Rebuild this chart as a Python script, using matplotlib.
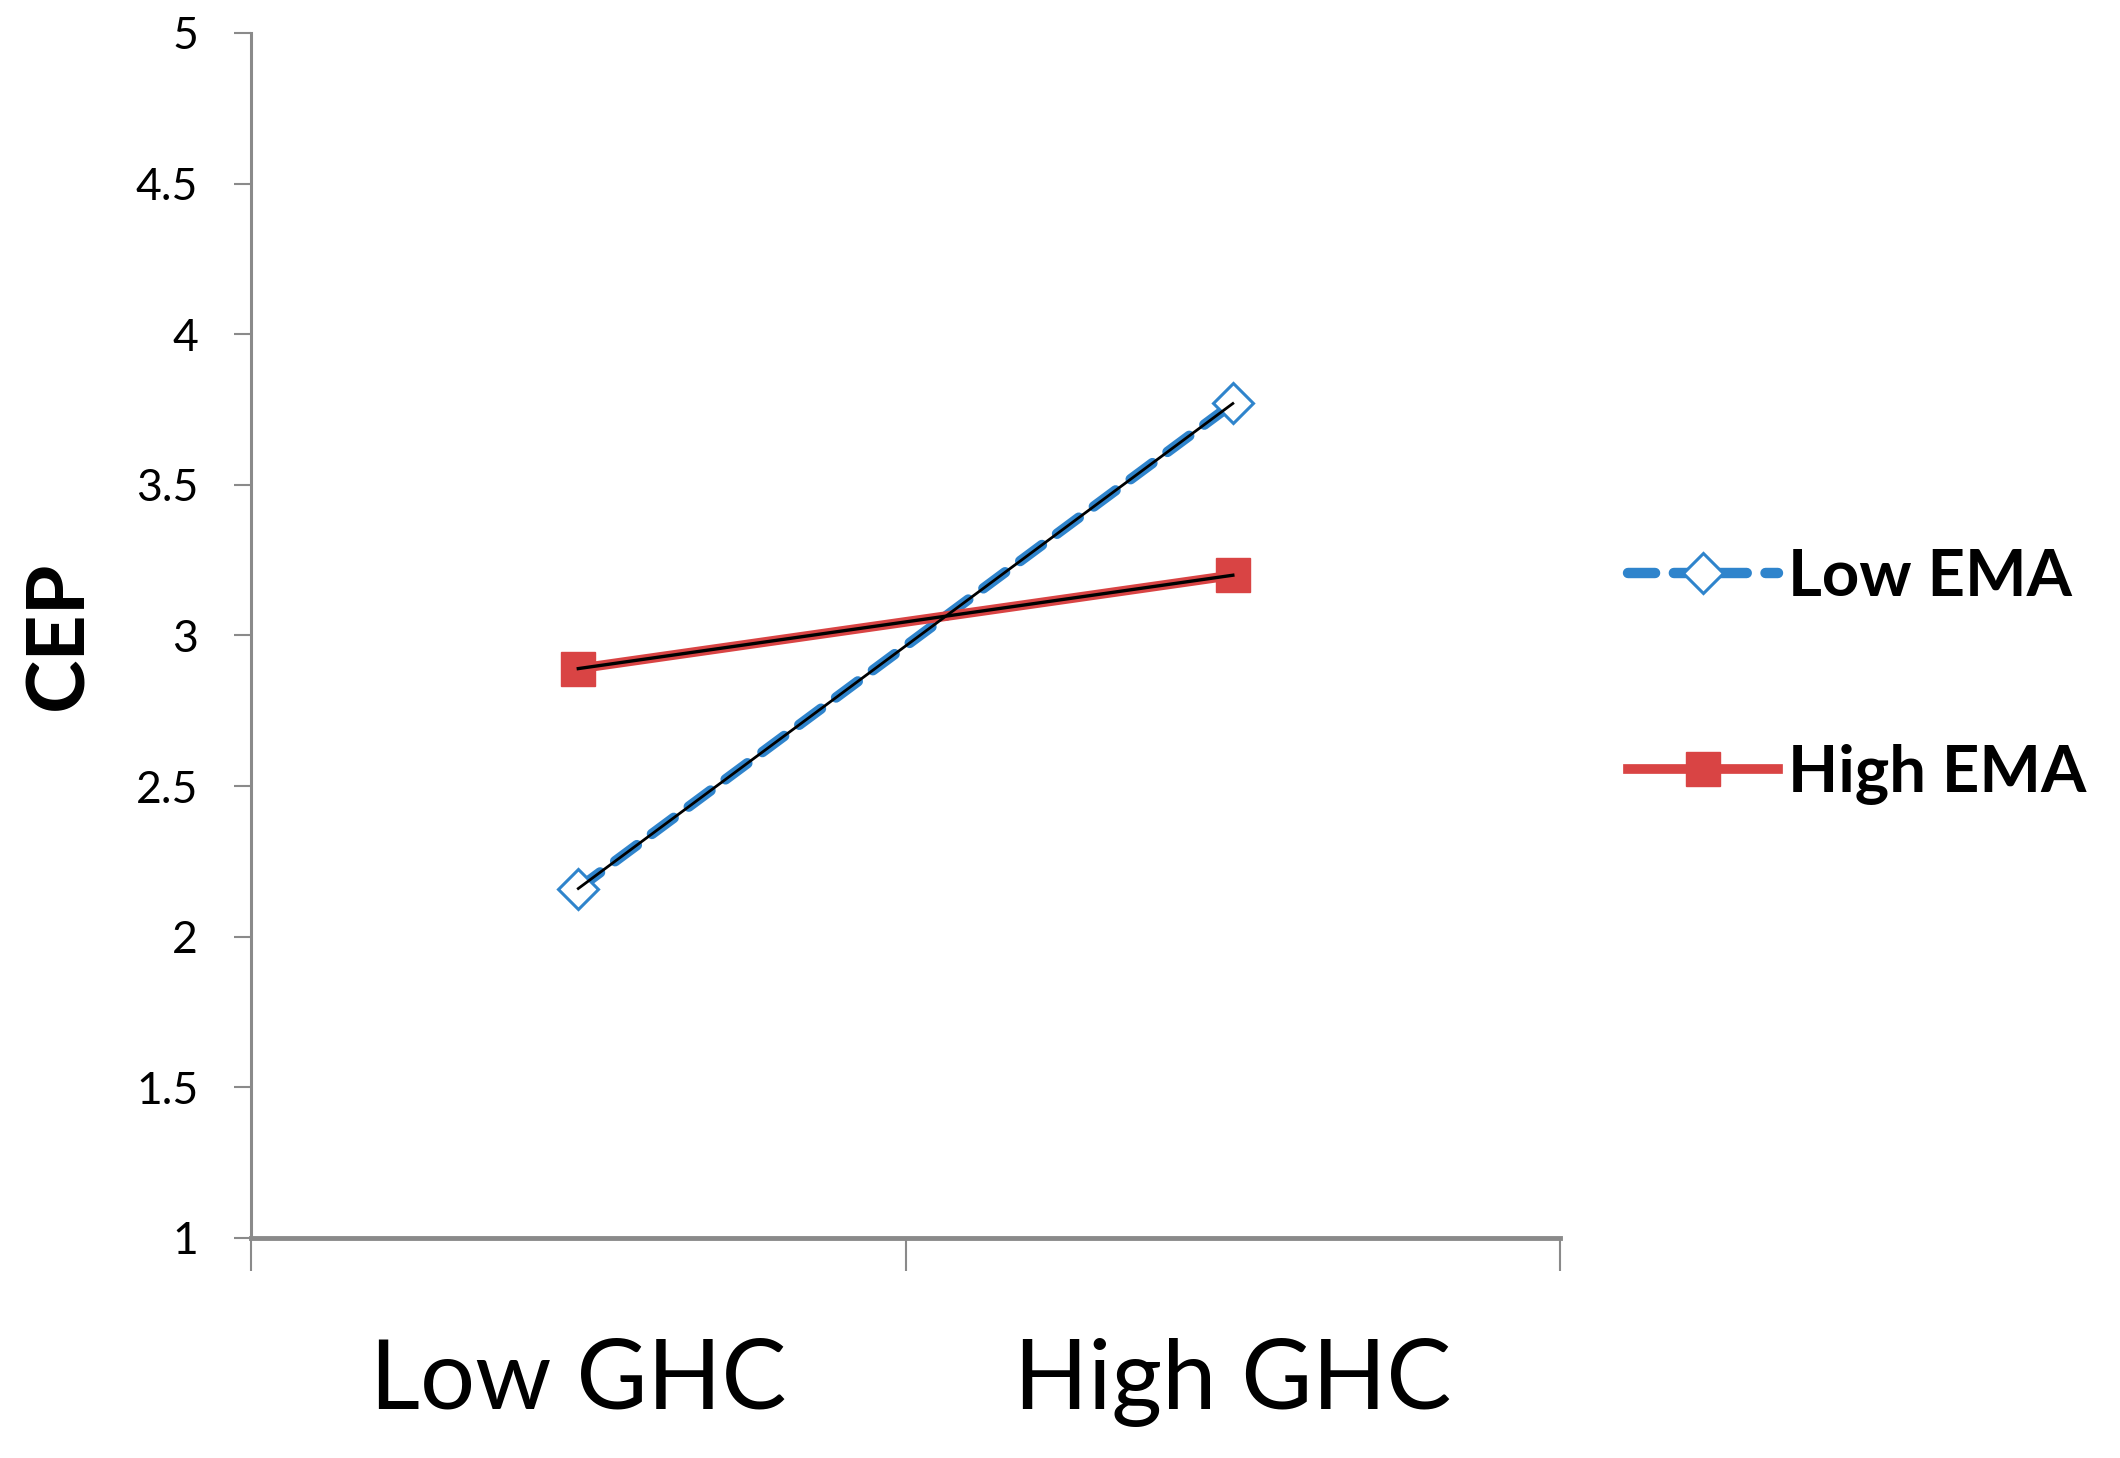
import matplotlib
matplotlib.use("Agg")
import matplotlib.pyplot as plt

# ─── data ────────────────────────────────────────────────────────────────────
categories = ["Low GHC", "High GHC"]
low_ema = [2.16, 3.77]
high_ema = [2.89, 3.20]
y_ticks = [1, 1.5, 2, 2.5, 3, 3.5, 4, 4.5, 5]
y_tick_labels = ["1", "1.5", "2", "2.5", "3", "3.5", "4", "4.5", "5"]

BLUE = "#2F84CC"
RED = "#D94444"
AXIS = "#8A8A8A"

plt.rcParams["font.family"] = ["Lato", "DejaVu Sans"]

fig = plt.figure(figsize=(21.2, 14.58), dpi=100)
ax = fig.add_axes([0.1184, 0.1509, 0.6175, 0.8265])

x = list(range(len(categories)))

# coloured series
l1, = ax.plot(x, low_ema, color=BLUE, lw=7.5, dashes=(2.6, 1.8),
              dash_capstyle="round", marker="D", markersize=20,
              markerfacecolor="white", markeredgecolor=BLUE,
              markeredgewidth=2.2, label="Low EMA", zorder=2)
l2, = ax.plot(x, high_ema, color=RED, lw=7.0, marker="s", markersize=25,
              markerfacecolor=RED, markeredgecolor=RED,
              label="High EMA", zorder=2)
# thin black lines drawn on top
ax.plot(x, low_ema, color="black", lw=2.0, zorder=3)
ax.plot(x, high_ema, color="black", lw=2.4, zorder=3)

ax.set_xlim(-0.5, 1.5)
ax.set_ylim(1, 5)

ax.set_yticks(y_ticks)
ax.set_yticklabels(y_tick_labels, fontsize=32)
ax.tick_params(axis="y", length=12, width=1.5, color=AXIS, pad=26)

ax.set_xticks([-0.5, 0.5, 1.5])
ax.set_xticklabels(["", "", ""])
ax.tick_params(axis="x", which="major", length=24, width=1.5, color=AXIS)
ax.set_xticks(x, minor=True)
ax.set_xticklabels(categories, minor=True, fontsize=70)
ax.tick_params(axis="x", which="minor", length=0, pad=72)

ax.spines[["top", "right"]].set_visible(False)
ax.spines["left"].set_color(AXIS)
ax.spines["left"].set_linewidth(2.2)
ax.spines["bottom"].set_color(AXIS)
ax.spines["bottom"].set_linewidth(3.5)

ax.set_ylabel("CEP", fontsize=58, fontweight="bold")
ax.yaxis.set_label_coords(-0.118, 0.5)

fig.legend(handles=[l1, l2], loc="center left", bbox_to_anchor=(0.768, 0.536),
           frameon=False, prop={"size": 47, "weight": "bold"},
           handlelength=2.3, handletextpad=0.15, labelspacing=2.1,
           borderpad=0, borderaxespad=0, numpoints=1)

fig.savefig("out.png", dpi=100)
print("Saved: out.png")
